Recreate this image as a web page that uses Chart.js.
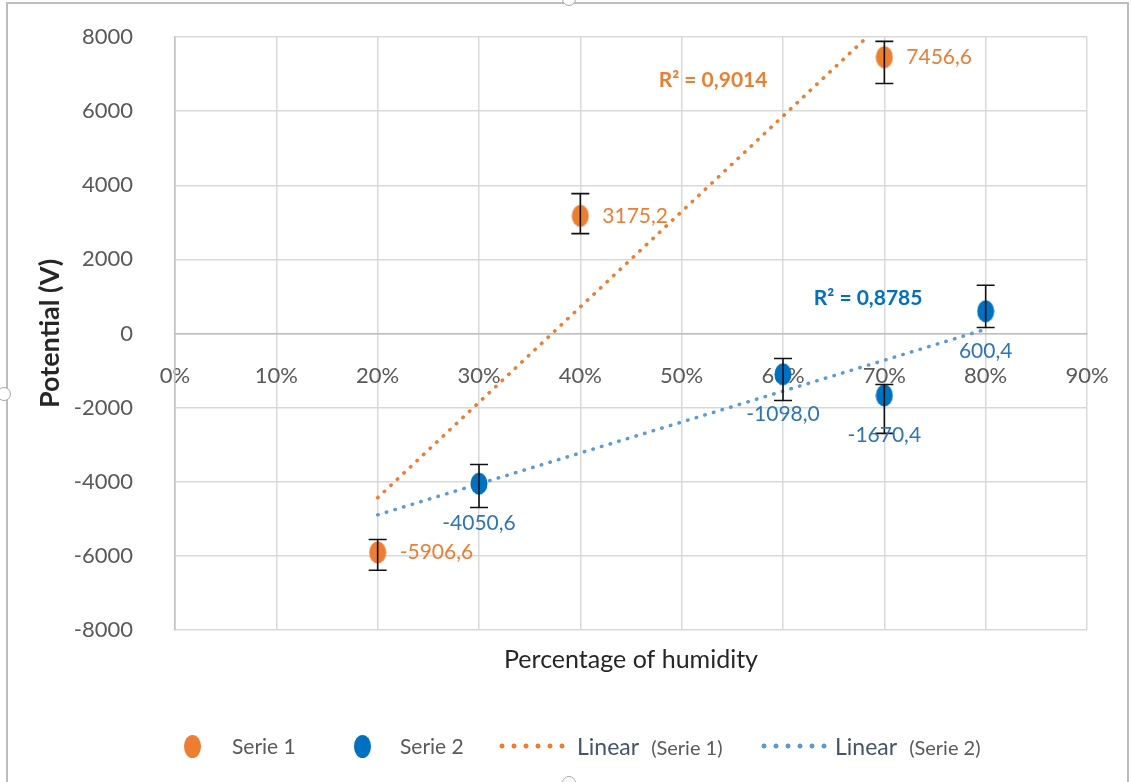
<!DOCTYPE html>
<html>
<head>
<meta charset="utf-8">
<title>Potential vs humidity</title>
<script src="https://cdn.jsdelivr.net/npm/chart.js@4.4.1/dist/chart.umd.min.js"></script>
<style>
    body { margin: 0; background: #fff; font-family: Lato, sans-serif; }
    #wrap { position: relative; width: 1131px; height: 782px; overflow: hidden; }
    #frame { position: absolute; left: 6px; top: 2px; width: 1123px; height: 800px; border: 2px solid #BDBDBD; box-sizing: border-box; pointer-events: none; }
    .handle { position: absolute; width: 12px; height: 12px; border: 1.5px solid #A6A6A6; border-radius: 50%; background: #fff; }
    #legend { position: absolute; left: 0; top: 731px; width: 1131px; height: 30px; color: #595959; }
    #legend .it { position: absolute; top: 0; height: 30px; line-height: 30px; white-space: nowrap; }
    #legend .dot { position: absolute; top: 4px; width: 17px; height: 23px; border-radius: 50%; }
    #legend .dash { position: absolute; top: 11px; height: 8px; background-repeat: repeat-x; background-size: 12px 8px; }
    .lin { color: #44546A; font-size: 23px; margin-right: 12px; }
    .ser { font-size: 20px; }
</style>
</head>
<body>
<div id="wrap">
    <canvas id="humidityChart" width="1131" height="782"></canvas>
    <div id="frame"></div>
    <div class="handle" style="left:562px; top:-8px;"></div>
    <div class="handle" style="left:-3px; top:387px;"></div>
    <div class="handle" style="left:562px; top:776px;"></div>
    <div id="legend">
        <span class="dot" style="left:184px; background:#ED7D31;"></span>
        <span class="it" style="left:232px; font-size:21px;">Serie 1</span>
        <span class="dot" style="left:354px; background:#0070C0;"></span>
        <span class="it" style="left:400px; font-size:21px;">Serie 2</span>
        <span class="dash" style="left:496px; width:70px; background-image:radial-gradient(circle, #ED7D31 2.2px, transparent 2.8px);"></span>
        <span class="it" style="left:577px;"><span class="lin">Linear</span><span class="ser">(Serie 1)</span></span>
        <span class="dash" style="left:758px; width:70px; background-image:radial-gradient(circle, #5B9BD5 2.2px, transparent 2.8px);"></span>
        <span class="it" style="left:835px;"><span class="lin">Linear</span><span class="ser">(Serie 2)</span></span>
    </div>
</div>
<script>
// --- data ---
const humidity1 = [20, 40, 70];
const potential1 = [-5906.6, 3175.2, 7456.6];
const errUp1 = [350, 600, 425];
const errDown1 = [480, 480, 710];

const humidity2 = [30, 60, 70, 80];
const potential2 = [-4050.6, -1098.0, -1670.4, 600.4];
const errUp2 = [515, 425, 295, 700];
const errDown2 = [645, 710, 1025, 440];

// trendline ranges (x) and where the R² boxes sit (data units)
const trendFrom = [20, 20];
const trendTo = [70, 80];
const r2Pos = [[53.1, 6830], [68.4, 945]];

const xTicks = [0, 10, 20, 30, 40, 50, 60, 70, 80, 90];
const yTicks = [-8000, -6000, -4000, -2000, 0, 2000, 4000, 6000, 8000];

const ORANGE = '#ED7D31';
const BLUE = '#0070C0';
const BLUE_LABEL = '#2E75B6';
const BLUE_TREND = '#5B9BD5';

Chart.defaults.font.family = 'Lato, sans-serif';

function linFit(xs, ys) {
    const n = xs.length;
    const mx = xs.reduce((a, b) => a + b, 0) / n;
    const my = ys.reduce((a, b) => a + b, 0) / n;
    let sxx = 0, sxy = 0, syy = 0;
    for (let i = 0; i < n; i++) {
        sxx += (xs[i] - mx) ** 2;
        sxy += (xs[i] - mx) * (ys[i] - my);
        syy += (ys[i] - my) ** 2;
    }
    const slope = sxy / sxx;
    return { slope: slope, icpt: my - slope * mx, r2: sxy * sxy / (sxx * syy) };
}

const fit1 = linFit(humidity1, potential1);
const fit2 = linFit(humidity2, potential2);

function trendPoints(fit, from, to) {
    return [from, to].map(x => ({ x: x, y: fit.icpt + fit.slope * x }));
}

function ellipseMarker(color) {
    const c = document.createElement('canvas');
    c.width = 18; c.height = 23;
    const g = c.getContext('2d');
    g.fillStyle = color;
    g.beginPath();
    g.ellipse(9, 11.5, 8.5, 11, 0, 0, Math.PI * 2);
    g.fill();
    return c;
}

const fmt = v => v.toFixed(1).replace('.', ',');

// error bars, value labels and R² text
const overlay = {
    id: 'overlay',
    afterDatasetsDraw(chart) {
        const { ctx, scales: { x, y } } = chart;
        ctx.save();

        ctx.strokeStyle = '#111';
        ctx.lineWidth = 1.6;
        [[humidity1, potential1, errUp1, errDown1], [humidity2, potential2, errUp2, errDown2]].forEach(([xs, ys, up, dn]) => {
            xs.forEach((hv, i) => {
                const px = x.getPixelForValue(hv);
                const top = y.getPixelForValue(ys[i] + up[i]);
                const bot = y.getPixelForValue(ys[i] - dn[i]);
                ctx.beginPath();
                ctx.moveTo(px, top); ctx.lineTo(px, bot);
                ctx.moveTo(px - 9, top); ctx.lineTo(px + 9, top);
                ctx.moveTo(px - 9, bot); ctx.lineTo(px + 9, bot);
                ctx.stroke();
            });
        });

        ctx.font = '21px Lato, sans-serif';
        ctx.fillStyle = ORANGE;
        ctx.textAlign = 'left';
        ctx.textBaseline = 'middle';
        humidity1.forEach((hv, i) => {
            ctx.fillText(fmt(potential1[i]), x.getPixelForValue(hv) + 22, y.getPixelForValue(potential1[i]));
        });
        ctx.fillStyle = BLUE_LABEL;
        ctx.textAlign = 'center';
        humidity2.forEach((hv, i) => {
            ctx.fillText(fmt(potential2[i]), x.getPixelForValue(hv), y.getPixelForValue(potential2[i]) + 40);
        });

        ctx.font = 'bold 21px Lato, sans-serif';
        [[fit1, ORANGE], [fit2, BLUE]].forEach(([f, col], i) => {
            ctx.fillStyle = col;
            ctx.fillText('R² = ' + f.r2.toFixed(4).replace('.', ','),
                x.getPixelForValue(r2Pos[i][0]), y.getPixelForValue(r2Pos[i][1]));
        });
        ctx.restore();
    }
};

const gridColor = '#D9D9D9';
const tickColor = '#595959';
const noTick = 'rgba(0,0,0,0)';

new Chart(document.getElementById('humidityChart'), {
    type: 'scatter',
    data: {
        datasets: [
            {
                label: 'Serie 1',
                data: humidity1.map((h, i) => ({ x: h, y: potential1[i] })),
                pointStyle: ellipseMarker(ORANGE),
                backgroundColor: ORANGE,
                borderColor: ORANGE
            },
            {
                label: 'Serie 2',
                data: humidity2.map((h, i) => ({ x: h, y: potential2[i] })),
                pointStyle: ellipseMarker(BLUE),
                backgroundColor: BLUE,
                borderColor: BLUE
            },
            {
                label: 'Linear (Serie 1)',
                data: trendPoints(fit1, trendFrom[0], trendTo[0]),
                showLine: true,
                pointRadius: 0,
                borderColor: ORANGE,
                borderWidth: 3.5,
                borderDash: [0.5, 8.5],
                borderCapStyle: 'round'
            },
            {
                label: 'Linear (Serie 2)',
                data: trendPoints(fit2, trendFrom[1], trendTo[1]),
                showLine: true,
                pointRadius: 0,
                borderColor: BLUE_TREND,
                borderWidth: 3.5,
                borderDash: [0.5, 8.5],
                borderCapStyle: 'round'
            }
        ]
    },
    options: {
        responsive: false,
        animation: false,
        layout: { padding: { left: 20, right: 44, top: 37, bottom: 92 } },
        plugins: {
            legend: { display: false },
            tooltip: { enabled: false }
        },
        scales: {
            x: {
                type: 'linear',
                position: { y: 0 },
                min: 0,
                max: 90,
                afterBuildTicks: s => { s.ticks = xTicks.map(v => ({ value: v })); },
                ticks: {
                    callback: v => v + '%',
                    color: tickColor,
                    font: { size: 22 },
                    padding: 2,
                    maxRotation: 0,
                    autoSkip: false
                },
                grid: { color: gridColor, lineWidth: 1.5, drawTicks: true, tickLength: 27, tickColor: noTick },
                border: { color: '#BFBFBF', width: 1.5 }
            },
            xTitle: {
                type: 'linear',
                position: 'bottom',
                min: 0,
                max: 90,
                ticks: { display: false },
                grid: { display: false, drawTicks: false },
                border: { display: false },
                title: {
                    display: true,
                    text: 'Percentage of humidity',
                    color: '#262626',
                    font: { size: 25 },
                    padding: { top: 0, bottom: 15 }
                },
                afterFit: s => { s.height = 60; }
            },
            y: {
                min: -8000,
                max: 8000,
                afterBuildTicks: s => { s.ticks = yTicks.map(v => ({ value: v })); },
                ticks: {
                    callback: v => String(v),
                    color: tickColor,
                    font: { size: 22 },
                    padding: 2
                },
                grid: { color: gridColor, lineWidth: 1.5, drawTicks: true, tickLength: 40, tickColor: noTick },
                border: { color: '#BFBFBF', width: 1.5 },
                title: {
                    display: true,
                    text: 'Potential (V)',
                    color: '#262626',
                    font: { size: 27, weight: 'bold' },
                    padding: { top: 14, bottom: 0 }
                },
                afterFit: s => { s.width = 155; }
            }
        }
    },
    plugins: [overlay]
});
</script>
</body>
</html>
